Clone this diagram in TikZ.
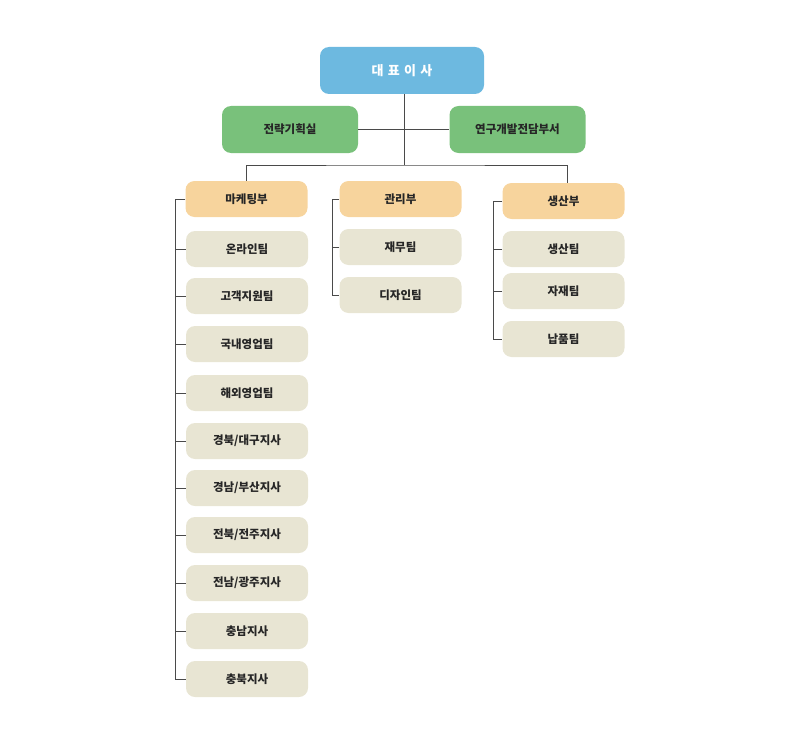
\documentclass[tikz,border=0pt]{standalone}
\usepackage{fontspec}
\newfontfamily\kr{Noto Sans CJK KR Black}
\definecolor{ceoblue}{HTML}{6DB9E0}
\definecolor{grn}{HTML}{79C17B}
\definecolor{org}{HTML}{F7D49D}
\definecolor{bge}{HTML}{E8E5D3}
\definecolor{lne}{HTML}{4A4A4A}
\tikzset{
  box/.style={rounded corners=9pt, minimum height=36pt, inner sep=0pt, font=\kr\fontsize{11.5}{12}\selectfont, text=black!85},
  ceo/.style={box, fill=ceoblue, minimum width=164pt, minimum height=47pt, text=white, font=\kr\fontsize{13}{14}\selectfont},
  staff/.style={box, fill=grn, minimum width=136pt, minimum height=47pt},
  dept/.style={box, fill=org, minimum width=122pt},
  team/.style={box, fill=bge, minimum width=122pt},
  link/.style={draw=lne, line width=1pt},
}
\begin{document}
\begin{tikzpicture}[x=1pt,y=-1pt]
\useasboundingbox (0,0) rectangle (800,741);
\node[ceo] (ceo) at (402,70.5) {대\,\,표\,\,이\,\,사};
\node[staff] (str) at (290,129.5) {전략기획실};
\node[staff] (rnd) at (517.5,129.5) {연구개발전담부서};
\node[dept] (mkt) at (246.5,199) {마케팅부};
\node[dept] (adm) at (400.5,199) {관리부};
\node[dept] (prd) at (563.5,201) {생산부};
% marketing teams
\node[team] (m1) at (247,249) {온라인팀};
\node[team] (m2) at (247,296) {고객지원팀};
\node[team] (m3) at (247,344) {국내영업팀};
\node[team] (m4) at (247,393) {해외영업팀};
\node[team] (m5) at (247,441) {경북/대구지사};
\node[team] (m6) at (247,488) {경남/부산지사};
\node[team] (m7) at (247,535) {전북/전주지사};
\node[team] (m8) at (247,583) {전남/광주지사};
\node[team] (m9) at (247,631) {충남지사};
\node[team] (m10) at (247,679) {충북지사};
% admin teams
\node[team] (a1) at (400.5,247) {재무팀};
\node[team] (a2) at (400.5,295) {디자인팀};
% production teams
\node[team] (p1) at (563.5,249) {생산팀};
\node[team] (p2) at (563.5,291) {자재팀};
\node[team] (p3) at (563.5,339) {납품팀};
% connectors
\coordinate (hub) at (404,165);
\draw[link] (ceo.south -| hub) -- (hub);
\draw[link] (str.east) -- (rnd.west);
\draw[link] (mkt.north) |- (hub) -| ([xshift=3.5pt]prd.north);
% brackets
\coordinate (bm) at (175,0);
\coordinate (ba) at (332,0);
\coordinate (bp) at (493,0);
\draw[link] (mkt.west) -| (bm |- m10.west) -- (m10.west);
\foreach \n in {m1,m2,m3,m4,m5,m6,m7,m8,m9} \draw[link] (\n.west) -- (bm |- \n.west);
\draw[link] (adm.west) -| (ba |- a2.west) -- (a2.west);
\draw[link] (a1.west) -- (ba |- a1.west);
\draw[link] (prd.west) -| (bp |- p3.west) -- (p3.west);
\foreach \n in {p1,p2} \draw[link] (\n.west) -- (bp |- \n.west);
\end{tikzpicture}
\end{document}
